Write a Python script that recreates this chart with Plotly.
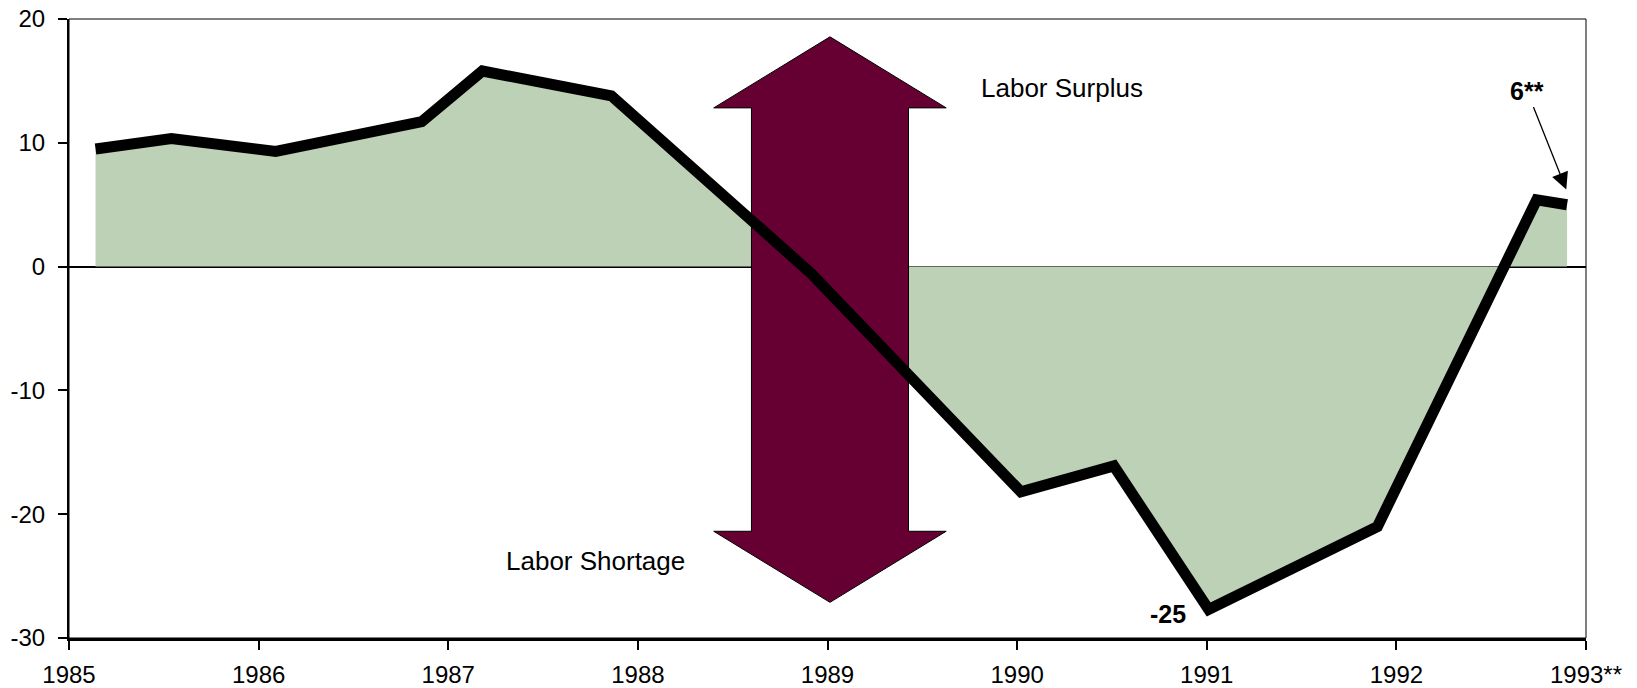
import plotly.graph_objects as go

# ---- data ----
years = [1985.14, 1985.54, 1986.09, 1986.86, 1987.18, 1987.86, 1988.91,
         1990.02, 1990.51, 1991.01, 1991.90, 1992.74, 1992.90]
index_values = [9.5, 10.35, 9.3, 11.7, 15.8, 13.8, -0.5,
                -18.2, -16.1, -27.7, -21.0, 5.4, 5.0]

x_tick_vals = [1985, 1986, 1987, 1988, 1989, 1990, 1991, 1992, 1993]
x_tick_text = ["1985", "1986", "1987", "1988", "1989", "1990", "1991", "1992", "1993**"]
y_tick_vals = [-30, -20, -10, 0, 10, 20]
y_tick_text = ["-30", "-20", "-10", "0", "10", "20"]

# double-headed arrow (decoration) in data units
arrow_cx = 1989.013
arrow_head_half = 0.613
arrow_shaft_half = 0.414
arrow_top_tip, arrow_top_base = 18.56, 12.82
arrow_bot_base, arrow_bot_tip = -21.38, -27.12

arrow_x = [arrow_cx,
           arrow_cx + arrow_head_half, arrow_cx + arrow_shaft_half,
           arrow_cx + arrow_shaft_half, arrow_cx + arrow_head_half,
           arrow_cx,
           arrow_cx - arrow_head_half, arrow_cx - arrow_shaft_half,
           arrow_cx - arrow_shaft_half, arrow_cx - arrow_head_half,
           arrow_cx]
arrow_y = [arrow_top_tip,
           arrow_top_base, arrow_top_base,
           arrow_bot_base, arrow_bot_base,
           arrow_bot_tip,
           arrow_bot_base, arrow_bot_base,
           arrow_top_base, arrow_top_base,
           arrow_top_tip]

FONT = "Arial, Liberation Sans, sans-serif"
GREEN = "#BCD1B5"
MAROON = "#660033"

fig = go.Figure()

fig.add_trace(go.Scatter(
    x=years, y=index_values, mode="lines", fill="tozeroy",
    fillcolor=GREEN, line=dict(width=0, color=GREEN),
    hoverinfo="skip", showlegend=False))

fig.add_trace(go.Scatter(
    x=arrow_x, y=arrow_y, mode="lines", fill="toself",
    fillcolor=MAROON, line=dict(width=1, color="black"),
    hoverinfo="skip", showlegend=False))

fig.add_trace(go.Scatter(
    x=years, y=index_values, mode="lines",
    line=dict(width=11, color="black"),
    showlegend=False))

fig.add_annotation(x=1990.234, y=14.42, text="Labor Surplus", showarrow=False,
                   font=dict(family=FONT, size=26, color="black"))
fig.add_annotation(x=1987.777, y=-23.74, text="Labor Shortage", showarrow=False,
                   font=dict(family=FONT, size=26, color="black"))
fig.add_annotation(x=1990.793, y=-28.07, text="<b>-25</b>", showarrow=False,
                   font=dict(family=FONT, size=25, color="black"))
fig.add_annotation(x=1992.896, y=6.23, text="<b>6**</b>", showarrow=True,
                   ax=-39, ay=-98, arrowhead=2, arrowsize=2.6, arrowwidth=1.3,
                   arrowcolor="black",
                   font=dict(family=FONT, size=25, color="black"))

# frame (top/right thin border)
fig.add_shape(type="rect", xref="paper", yref="paper", x0=0, x1=1, y0=0, y1=1,
              line=dict(color="black", width=1), layer="above")

fig.update_layout(
    width=1637, height=688,
    margin=dict(l=69.3, r=50.5, t=19.3, b=50.3, autoexpand=False),
    paper_bgcolor="white", plot_bgcolor="white",
    font=dict(family=FONT, size=24, color="black"),
    showlegend=False,
)
fig.update_xaxes(
    range=[1985, 1993], tickvals=x_tick_vals, ticktext=x_tick_text,
    showgrid=False, zeroline=False, showline=True, linecolor="black", linewidth=2.5,
    ticks="outside", ticklen=9, tickwidth=1.5, tickcolor="black",
    ticklabelstandoff=4, layer="above traces", automargin=False,
    tickfont=dict(family=FONT, size=24, color="black"))
fig.update_yaxes(
    range=[-30, 20], tickvals=y_tick_vals, ticktext=y_tick_text,
    showgrid=False, zeroline=True, zerolinecolor="black", zerolinewidth=1.5,
    showline=True, linecolor="black", linewidth=2,
    ticks="outside", ticklen=9, tickwidth=1.5, tickcolor="black",
    ticklabelstandoff=8, layer="above traces", automargin=False,
    tickfont=dict(family=FONT, size=24, color="black"))

fig.write_html("out.html", config={"displayModeBar": False},
               post_script="document.body.style.margin='0';document.body.style.overflow='hidden';")
